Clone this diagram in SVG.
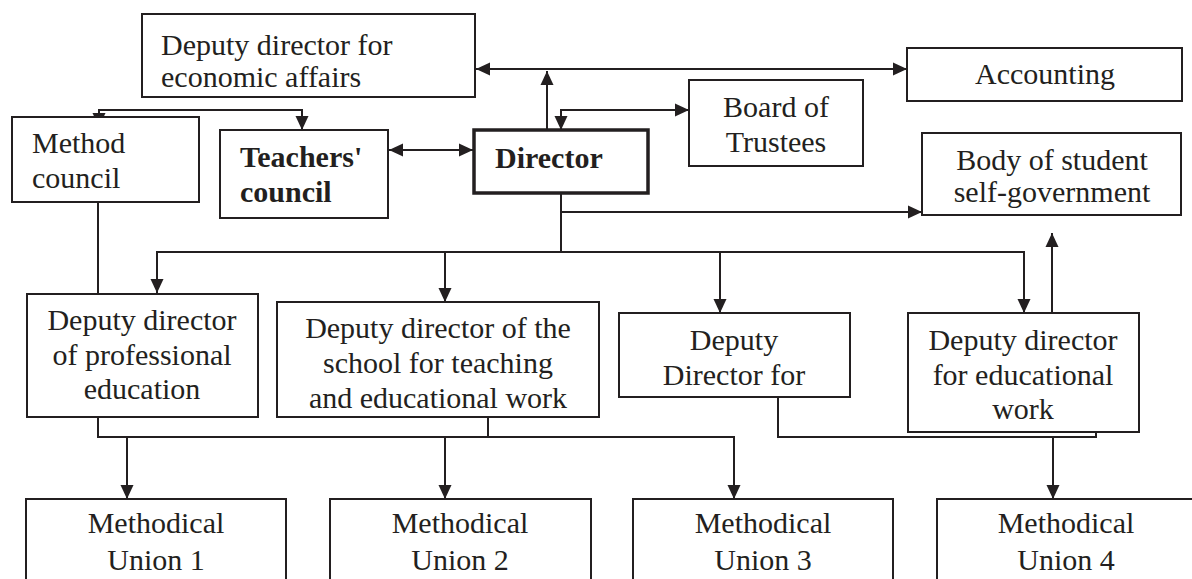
<svg xmlns="http://www.w3.org/2000/svg" width="1192" height="579" viewBox="0 0 1192 579">
<style>
.box{fill:#fff;stroke:#231f20;stroke-width:2}
.bold-box{fill:#fff;stroke:#231f20;stroke-width:3.5}
.t{font-family:'Liberation Serif','Times New Roman','DejaVu Serif',serif;font-size:30px;fill:#231f20}
.c{text-anchor:middle}
.b{font-weight:bold}
.ln{fill:none;stroke:#231f20;stroke-width:2}
.a2{marker-start:url(#ah);marker-end:url(#ah)}
.a1{marker-end:url(#ah)}
</style>
<defs>
<marker id="ah" viewBox="0 0 14 14" refX="14" refY="7" markerWidth="14" markerHeight="14" markerUnits="userSpaceOnUse" orient="auto-start-reverse">
<path d="M0,0.5 L14,7 L0,13.5 z" fill="#231f20"/>
</marker>
</defs>
<rect width="1192" height="579" fill="#fff"/>

<g id="connectors">
<path class="ln a2" d="M476,69 H907"/>
<path class="ln a1" d="M547,130 V71"/>
<path class="ln a2" d="M561,130 V110 H689"/>
<path class="ln a2" d="M99,127 V110 H302 V130"/>
<path class="ln a2" d="M389,150 H473"/>
<path class="ln" d="M561,194 V252"/>
<path class="ln a1" d="M561,212 H922"/>
<path class="ln a2" d="M157,293 V252 H1024 V313"/>
<path class="ln a1" d="M445,252 V302"/>
<path class="ln a1" d="M720,252 V313"/>
<path class="ln a1" d="M1052,313 V233"/>
<path class="ln a1" d="M98,294 V189"/>
<path class="ln a1" d="M98,417 V437 H734 V499"/>
<path class="ln" d="M488,400 V437"/>
<path class="ln a1" d="M127,437 V499"/>
<path class="ln a1" d="M445,437 V499"/>
<path class="ln" d="M778,397 V437 H1096 V397"/>
<path class="ln a1" d="M1053,437 V499"/>
</g>

<g id="econ">
<rect class="box" x="142" y="14" width="333" height="83"/>
<text class="t" x="161" y="55">Deputy director for</text>
<text class="t" x="161" y="87">economic affairs</text>
</g>

<g id="accounting">
<rect class="box" x="907" y="48" width="275" height="53"/>
<text class="t c" x="1045" y="84">Accounting</text>
</g>

<g id="board">
<rect class="box" x="689" y="80" width="174" height="86"/>
<text class="t c" x="776" y="117">Board of</text>
<text class="t c" x="776" y="152">Trustees</text>
</g>

<g id="method-council">
<rect class="box" x="12" y="117" width="187" height="85"/>
<text class="t" x="32" y="153">Method</text>
<text class="t" x="32" y="188">council</text>
</g>

<g id="teachers-council">
<rect class="box" x="220" y="130" width="168" height="88"/>
<text class="t b" x="240" y="167">Teachers'</text>
<text class="t b" x="240" y="202">council</text>
</g>

<g id="director">
<rect class="bold-box" x="474" y="130" width="174" height="63"/>
<text class="t b" x="495" y="168">Director</text>
</g>

<g id="student-body">
<rect class="box" x="922" y="133" width="259" height="82"/>
<text class="t c" x="1052" y="170">Body of student</text>
<text class="t c" x="1052" y="202">self-government</text>
</g>

<g id="dd-professional">
<rect class="box" x="27" y="294" width="231" height="123"/>
<text class="t c" x="142" y="330">Deputy director</text>
<text class="t c" x="142" y="365">of professional</text>
<text class="t c" x="142" y="399">education</text>
</g>

<g id="dd-school">
<rect class="box" x="277" y="302" width="322" height="115"/>
<text class="t c" x="438" y="338">Deputy director of the</text>
<text class="t c" x="438" y="373">school for teaching</text>
<text class="t c" x="438" y="408">and educational work</text>
</g>

<g id="dd-for">
<rect class="box" x="619" y="313" width="231" height="84"/>
<text class="t c" x="734" y="350">Deputy</text>
<text class="t c" x="734" y="385">Director for</text>
</g>

<g id="dd-educational">
<rect class="box" x="908" y="313" width="231" height="119"/>
<text class="t c" x="1023" y="350">Deputy director</text>
<text class="t c" x="1023" y="385">for educational</text>
<text class="t c" x="1023" y="419">work</text>
</g>

<g id="mu1">
<rect class="box" x="26" y="499" width="260" height="100"/>
<text class="t c" x="156" y="533">Methodical</text>
<text class="t c" x="156" y="570">Union 1</text>
</g>

<g id="mu2">
<rect class="box" x="330" y="499" width="261" height="100"/>
<text class="t c" x="460" y="533">Methodical</text>
<text class="t c" x="460" y="570">Union 2</text>
</g>

<g id="mu3">
<rect class="box" x="633" y="499" width="260" height="100"/>
<text class="t c" x="763" y="533">Methodical</text>
<text class="t c" x="763" y="570">Union 3</text>
</g>

<g id="mu4">
<rect class="box" x="937" y="499" width="262" height="100"/>
<text class="t c" x="1066" y="533">Methodical</text>
<text class="t c" x="1066" y="570">Union 4</text>
</g>
</svg>
